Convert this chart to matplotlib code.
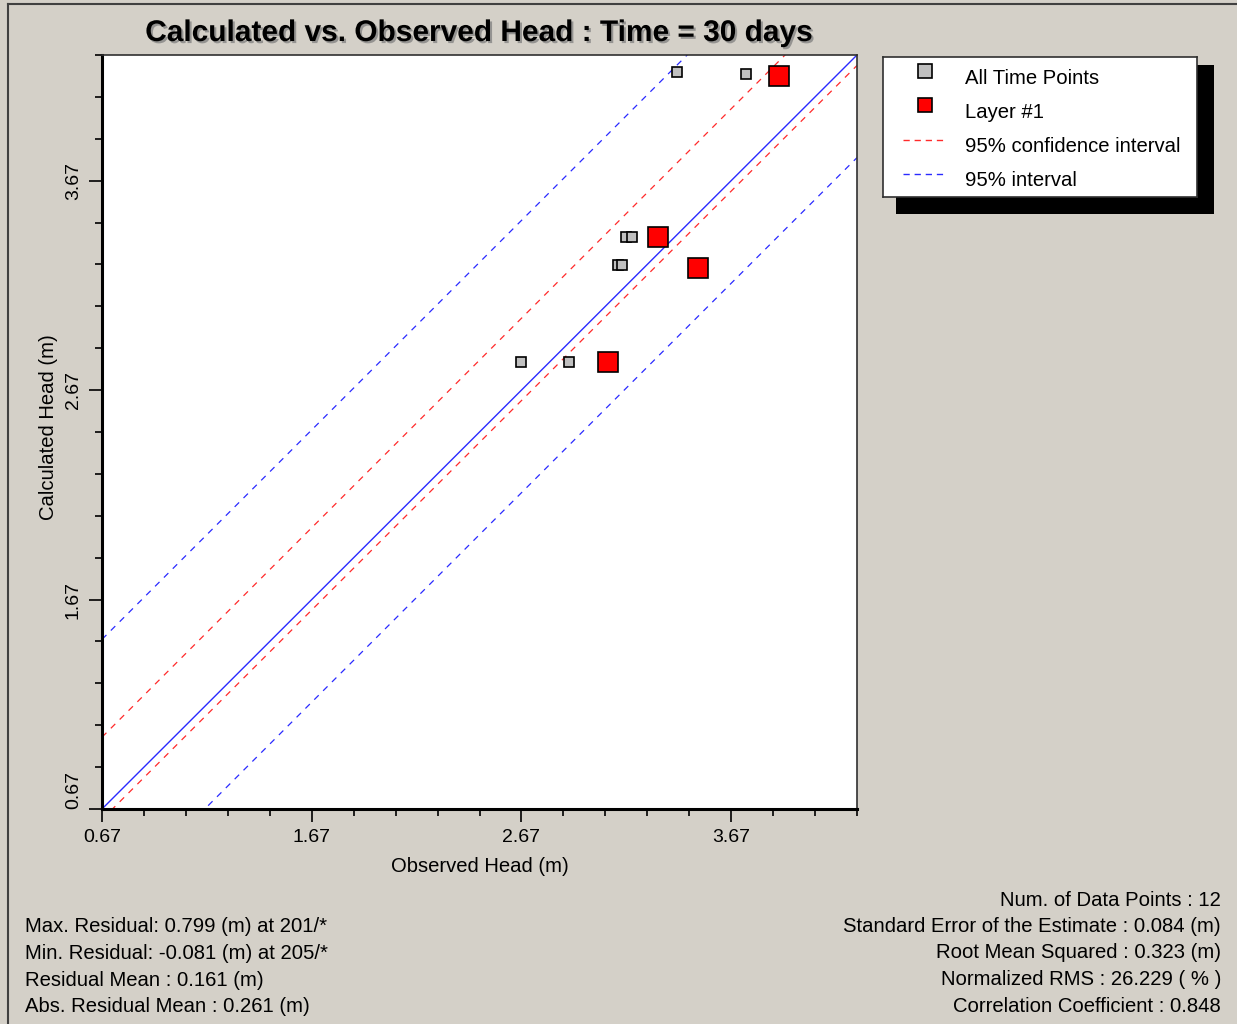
import matplotlib
matplotlib.use('Agg')
import matplotlib.pyplot as plt
import matplotlib.patheffects as pe
from matplotlib.patches import Rectangle
from matplotlib.lines import Line2D
from matplotlib.ticker import FixedLocator, FormatStrFormatter
import numpy as np

plt.rcParams['font.family'] = ['Liberation Sans', 'DejaVu Sans']

# data
all_obs = [3.41, 3.74, 3.17, 3.195, 3.13, 3.15, 2.67, 2.895]
all_calc = [4.19, 4.18, 3.40, 3.40, 3.265, 3.265, 2.805, 2.805]
layer_obs = [3.90, 3.32, 3.51, 3.085]
layer_calc = [4.17, 3.40, 3.255, 2.805]
ci_offsets = [0.343, -0.05]   # 95% confidence interval
pi_offsets = [0.81, -0.49]    # 95% interval
axis_lim = [0.67, 4.27]
major_ticks = [0.67, 1.67, 2.67, 3.67]

title = 'Calculated vs. Observed Head : Time = 30 days'
legend_labels = ['All Time Points', 'Layer #1', '95% confidence interval', '95% interval']
left_stats = [
    'Max. Residual: 0.799 (m) at 201/*',
    'Min. Residual: -0.081 (m) at 205/*',
    'Residual Mean : 0.161 (m)',
    'Abs. Residual Mean : 0.261 (m)',
]
right_stats = [
    'Num. of Data Points : 12',
    'Standard Error of the Estimate : 0.084 (m)',
    'Root Mean Squared : 0.323 (m)',
    'Normalized RMS : 26.229 ( % )',
    'Correlation Coefficient : 0.848',
]

W, H = 1237, 1024
BG = '#d4d0c8'
BLUE = '#2a2aff'
RED = '#ff2a2a'
GRAY = '#c0c0c0'

fig = plt.figure(figsize=(W / 100, H / 100), dpi=100, facecolor=BG)

# window frame
fig.add_artist(Line2D([8 / W, 8 / W], [0, 1 - 4 / H], color='#404040', lw=1.5))
fig.add_artist(Line2D([8 / W, 1], [1 - 4 / H, 1 - 4 / H], color='#404040', lw=1.5))

ax = fig.add_axes([102 / W, 1 - 809 / H, 755 / W, 754 / H])
ax.set_facecolor('white')

xs = np.array(axis_lim)
ax.plot(xs, xs, color=BLUE, lw=1.0, zorder=2)
for off in ci_offsets:
    ax.plot(xs, xs + off, color=RED, lw=0.9, ls=(0, (5, 5)), zorder=2)
for off in pi_offsets:
    ax.plot(xs, xs + off, color=BLUE, lw=0.9, ls=(0, (5, 5)), zorder=2)

ax.plot(all_obs, all_calc, ls='none', marker='s', ms=7.2, mfc=GRAY, mec='black', mew=1.2, zorder=3)
ax.plot(layer_obs, layer_calc, ls='none', marker='s', ms=13.8, mfc='red', mec='black', mew=1.2, zorder=4)

ax.set_xlim(axis_lim)
ax.set_ylim(axis_lim)
minor_ticks = np.arange(axis_lim[0], axis_lim[1] + 0.01, 0.2)
for a in (ax.xaxis, ax.yaxis):
    a.set_major_locator(FixedLocator(major_ticks))
    a.set_minor_locator(FixedLocator(minor_ticks))
    a.set_major_formatter(FormatStrFormatter('%.2f'))

ax.tick_params(which='major', length=9.5, width=1.2, labelsize=14, direction='out', color='black')
ax.tick_params(which='minor', length=5, width=1.2, direction='out', color='black')
ax.tick_params(axis='x', which='major', pad=5)
ax.tick_params(axis='y', which='major', pad=5, labelrotation=90)
ylabels = ax.get_yticklabels()
plt.setp(ylabels, va='center')
ylabels[0].set_va('bottom')

for side in ('left', 'bottom'):
    ax.spines[side].set_linewidth(2.2)
    ax.spines[side].set_color('black')
for side in ('top', 'right'):
    ax.spines[side].set_linewidth(1.2)
    ax.spines[side].set_color('#303030')

ax.set_xlabel('Observed Head (m)', fontsize=14.6)
ax.set_ylabel('Calculated Head (m)', fontsize=14.6)
ax.xaxis.set_label_coords(0.5, -(857 - 809) / 754)
ax.yaxis.set_label_coords(-(102 - 58) / 755, (809 - 427) / 754)

fig.text(479 / W, 1 - 33 / H, title, ha='center', va='center', fontsize=21.5, fontweight='bold',
         path_effects=[pe.withSimplePatchShadow(offset=(1.5, -1.5), shadow_rgbFace='#7a7a7a', alpha=0.7)])

# legend box with hard black shadow
fig.add_artist(Rectangle((896 / W, 1 - 214 / H), (1214 - 896) / W, (214 - 65) / H,
                         transform=fig.transFigure, facecolor='black', edgecolor='none', zorder=-1))
lax = fig.add_axes([883 / W, 1 - 197 / H, 314 / W, 140 / H])
lax.set_xlim(0, 314)
lax.set_ylim(140, 0)
lax.set_xticks([])
lax.set_yticks([])
lax.set_facecolor('white')
for s in lax.spines.values():
    s.set_color('#303030')
    s.set_linewidth(1.2)

rows = [14, 48, 83, 117]
lax.plot(42, rows[0], marker='s', ms=10.5, mfc=GRAY, mec='black', mew=1.2)
lax.plot(42, rows[1], marker='s', ms=10.5, mfc='red', mec='black', mew=1.2)
lax.plot([20, 62], [rows[2], rows[2]], color=RED, lw=1.0, ls=(0, (4.5, 3.5)))
lax.plot([20, 62], [rows[3], rows[3]], color=BLUE, lw=1.0, ls=(0, (4.5, 3.5)))
for r, lab in zip(rows, legend_labels):
    lax.text(82, r + 7, lab, ha='left', va='center', fontsize=14.6)

for i, s in enumerate(left_stats):
    fig.text(25 / W, 1 - (927 + 26.5 * i) / H, s, ha='left', va='center', fontsize=14.6)
for i, s in enumerate(right_stats):
    fig.text(1221 / W, 1 - (900 + 26.5 * i) / H, s, ha='right', va='center', fontsize=14.6)

fig.savefig('out.png', dpi=100, facecolor=BG)
